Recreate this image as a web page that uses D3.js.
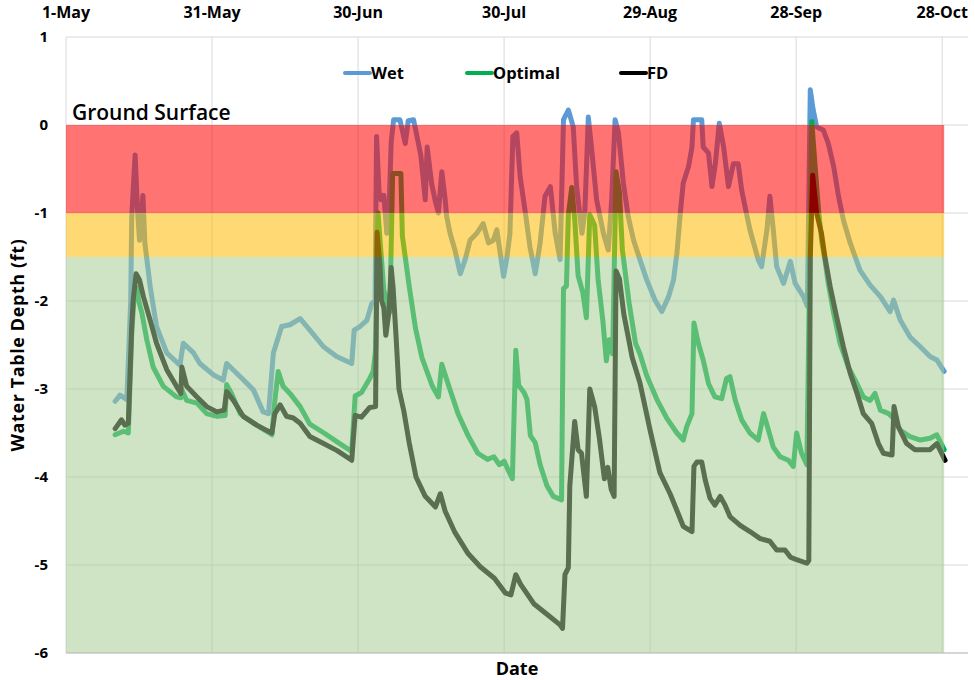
<!DOCTYPE html>
<html>
<head>
<meta charset="utf-8">
<script src="https://cdn.jsdelivr.net/npm/d3@7"></script>
<style>
    body { margin: 0; background: #fff; }
    svg text { font-family: "Open Sans", "Noto Sans", sans-serif; font-weight: 700; fill: #000; }
</style>
</head>
<body>
<div id="chart"></div>
<script>
// days are counted from 1-May
const startDate = Date.UTC(2021, 4, 1);
const tickDays = [0, 30, 60, 90, 120, 150, 180];
const yTicks = [1, 0, -1, -2, -3, -4, -5, -6];
const seriesNames = ['Wet', 'Optimal', 'FD'];

// depth bands (ft): flooded, marginal, good
const bandLimits = [[0, -1], [-1, -1.5], [-1.5, -6]];

const wetData = [
    [10.1,-3.14],[11.1,-3.07],[12.5,-3.12],[13.3,-1.99],[13.5,-1.04],[14.2,-0.34],[14.7,-0.97],[15.1,-1.31],
    [15.8,-0.80],[16.2,-1.34],[17.3,-1.84],[18.6,-2.29],[20.7,-2.59],[23.4,-2.73],[24.1,-2.48],[26.2,-2.59],
    [27.5,-2.71],[30.3,-2.84],[32.3,-2.90],[33.0,-2.71],[35.8,-2.86],[38.5,-3.01],[40.5,-3.26],[41.6,-3.28],
    [42.6,-2.59],[44.3,-2.29],[46.0,-2.27],[48.1,-2.20],[50.1,-2.33],[52.9,-2.52],[55.6,-2.63],[58.7,-2.71],
    [59.2,-2.33],[60.4,-2.29],[61.8,-2.22],[62.8,-2.03],[63.5,-1.99],[63.8,-0.13],[64.3,-0.75],[64.7,-0.85],
    [65.3,-0.80],[65.9,-1.23],[66.4,-0.90],[66.8,-0.20],[67.3,0.06],[68.6,0.06],[69.7,-0.21],[70.3,0.05],
    [71.4,0.06],[72.4,-0.21],[72.9,-0.35],[73.8,-0.85],[74.2,-0.25],[75.1,-0.66],[75.8,-0.85],[76.5,-1.00],
    [77.2,-0.53],[77.9,-0.85],[78.2,-1.04],[78.9,-1.23],[79.9,-1.42],[81.0,-1.69],[82.0,-1.53],[83.0,-1.31],
    [84.4,-1.23],[85.7,-1.12],[86.8,-1.34],[87.8,-1.31],[88.5,-1.19],[89.9,-1.72],[90.6,-1.50],[91.2,-1.23],
    [91.8,-0.13],[92.6,-0.09],[93.3,-0.59],[94.3,-0.97],[95.3,-1.38],[96.4,-1.69],[97.4,-1.34],[98.4,-0.81],
    [99.5,-0.70],[100.5,-1.23],[101.5,-1.53],[102.2,0.06],[103.2,0.17],[104.2,-0.02],[104.9,-0.70],[106.0,-1.23],
    [106.6,-0.97],[107.3,0.09],[108.0,-0.28],[109.0,-0.85],[110.4,-1.23],[111.4,-1.42],[112.1,-0.85],[112.8,0.06],
    [113.5,-0.09],[114.5,-0.66],[115.5,-1.04],[116.6,-1.31],[117.9,-1.53],[119.3,-1.76],[121.0,-1.99],[122.4,-2.12],
    [123.8,-1.95],[124.8,-1.76],[125.5,-1.46],[126.2,-1.00],[126.8,-0.66],[127.9,-0.47],[128.6,-0.25],[128.9,0.06],
    [130.6,0.06],[130.9,-0.25],[132.0,-0.32],[132.7,-0.70],[133.4,-0.44],[134.2,0.02],[135.1,-0.25],[136.1,-0.70],
    [137.1,-0.44],[138.1,-0.44],[138.8,-0.74],[139.5,-0.93],[140.5,-1.19],[142.2,-1.53],[142.9,-1.61],[144.0,-1.19],
    [144.6,-0.81],[145.3,-1.19],[146.0,-1.61],[147.4,-1.80],[148.8,-1.55],[149.8,-1.80],[151.5,-1.95],[152.3,-2.06],
    [152.9,0.40],[153.5,0.17],[154.2,-0.02],[155.6,-0.06],[156.6,-0.21],[157.7,-0.47],[158.7,-0.81],[159.7,-1.08],
    [161.1,-1.34],[163.1,-1.65],[165.2,-1.82],[167.3,-1.95],[169.3,-2.12],[170.0,-1.99],[171.4,-2.22],[173.4,-2.41],
    [175.5,-2.52],[177.5,-2.63],[178.9,-2.67],[180.4,-2.80]
];

const optimalData = [
    [10.1,-3.52],[11.8,-3.48],[12.8,-3.50],[13.5,-2.37],[14.0,-1.95],[14.6,-1.85],[14.9,-1.99],[15.6,-2.14],
    [16.6,-2.44],[17.9,-2.75],[20.0,-2.97],[22.7,-3.09],[23.6,-3.10],[23.8,-3.01],[24.8,-3.13],[26.9,-3.16],
    [28.9,-3.28],[31.0,-3.31],[32.7,-3.30],[33.0,-2.95],[34.0,-3.05],[35.8,-3.28],[38.5,-3.39],[41.2,-3.48],
    [42.3,-3.52],[42.9,-3.13],[43.6,-2.80],[44.6,-2.97],[46.0,-3.05],[48.1,-3.20],[50.1,-3.40],[53.0,-3.50],
    [55.7,-3.60],[58.7,-3.71],[59.4,-3.08],[60.7,-3.04],[62.4,-2.88],[63.1,-2.80],[63.6,-2.56],[64.1,-1.00],
    [64.5,-1.30],[65.3,-1.88],[65.9,-2.00],[66.5,-2.13],[66.8,-1.40],[67.1,-0.55],[68.8,-0.55],[69.1,-1.26],
    [70.5,-1.83],[71.8,-2.31],[73.1,-2.64],[75.2,-2.96],[76.5,-3.09],[77.2,-2.72],[78.6,-2.96],[80.6,-3.29],
    [82.6,-3.53],[84.6,-3.73],[86.6,-3.80],[87.9,-3.77],[89.0,-3.86],[90.0,-3.82],[91.0,-3.94],[91.7,-4.02],
    [92.4,-2.56],[93.0,-2.96],[94.1,-3.04],[94.7,-3.12],[95.4,-3.53],[96.4,-3.61],[97.4,-3.86],[98.8,-4.10],
    [100.1,-4.22],[101.8,-4.26],[102.2,-1.86],[102.8,-1.83],[103.2,-1.02],[103.9,-0.71],[104.5,-1.06],[105.2,-1.71],
    [106.2,-1.91],[106.9,-2.19],[107.6,-1.02],[108.6,-1.14],[109.3,-1.75],[110.3,-2.23],[111.0,-2.68],[111.6,-2.44],
    [112.3,-2.60],[113.0,-0.53],[113.7,-0.77],[114.3,-1.42],[115.7,-2.03],[117.0,-2.48],[117.9,-2.60],[119.3,-2.85],
    [121.4,-3.12],[123.4,-3.33],[125.5,-3.50],[126.8,-3.58],[127.5,-3.43],[128.6,-3.28],[129.0,-2.25],[129.9,-2.48],
    [130.9,-2.67],[132.0,-2.94],[133.3,-3.09],[134.7,-3.11],[135.7,-2.88],[136.4,-2.86],[137.5,-3.13],[138.8,-3.35],
    [140.5,-3.50],[142.2,-3.58],[143.3,-3.28],[143.9,-3.39],[145.3,-3.66],[146.7,-3.77],[148.4,-3.81],[149.4,-3.88],
    [150.1,-3.50],[151.1,-3.73],[152.2,-3.86],[153.2,0.04],[153.9,-0.47],[154.6,-0.97],[155.3,-1.34],[155.9,-1.53],
    [156.6,-1.80],[157.7,-2.14],[159.0,-2.48],[160.7,-2.75],[162.5,-2.94],[163.8,-3.09],[165.2,-3.13],[166.2,-3.05],
    [167.3,-3.24],[169.0,-3.28],[170.3,-3.35],[171.4,-3.47],[173.4,-3.54],[175.5,-3.58],[177.5,-3.56],[178.9,-3.52],
    [180.4,-3.69]
];

const fdData = [
    [10.1,-3.45],[11.4,-3.35],[12.1,-3.41],[12.8,-3.39],[13.5,-2.29],[13.8,-1.99],[14.4,-1.69],[15.1,-1.76],
    [15.9,-1.95],[17.3,-2.22],[18.6,-2.48],[20.7,-2.78],[22.7,-2.97],[23.6,-3.05],[23.8,-2.75],[24.8,-2.97],
    [26.9,-3.09],[28.9,-3.20],[31.0,-3.26],[32.5,-3.24],[33.0,-3.03],[34.4,-3.13],[36.4,-3.31],[39.2,-3.41],
    [41.2,-3.47],[42.3,-3.50],[42.9,-3.28],[44.0,-3.18],[45.3,-3.31],[46.7,-3.33],[48.1,-3.39],[50.1,-3.54],
    [52.9,-3.62],[55.7,-3.70],[58.7,-3.81],[59.4,-3.30],[60.7,-3.32],[62.4,-3.21],[63.6,-3.20],[63.9,-1.22],
    [64.5,-1.60],[64.8,-1.99],[65.3,-2.08],[65.7,-2.39],[66.4,-2.10],[66.8,-1.62],[67.2,-1.85],[67.8,-2.40],
    [68.4,-3.00],[69.4,-3.25],[70.5,-3.61],[71.9,-4.00],[73.8,-4.22],[75.9,-4.34],[76.9,-4.19],[77.9,-4.39],
    [79.9,-4.63],[82.6,-4.87],[85.1,-5.02],[88.0,-5.15],[90.3,-5.32],[91.4,-5.34],[92.4,-5.11],[93.4,-5.22],
    [96.1,-5.44],[98.8,-5.56],[101.5,-5.68],[102.0,-5.72],[102.5,-5.11],[103.2,-5.03],[103.5,-4.10],[104.5,-3.37],
    [105.2,-3.69],[105.9,-3.73],[106.9,-4.22],[107.6,-3.00],[108.6,-3.20],[109.6,-3.57],[110.6,-4.02],[111.3,-3.89],
    [112.0,-4.14],[112.6,-4.22],[113.0,-1.66],[113.7,-1.75],[114.6,-2.15],[116.3,-2.64],[117.9,-2.93],[120.0,-3.47],
    [122.0,-3.95],[124.1,-4.19],[125.5,-4.38],[126.8,-4.56],[128.6,-4.62],[129.0,-3.88],[129.6,-3.83],[130.6,-3.83],
    [131.3,-4.03],[132.3,-4.24],[133.3,-4.32],[134.4,-4.22],[135.4,-4.32],[136.4,-4.45],[138.5,-4.55],[140.5,-4.62],
    [142.6,-4.70],[144.6,-4.73],[146.0,-4.83],[147.7,-4.83],[148.8,-4.91],[150.1,-4.94],[152.2,-4.98],[152.6,-4.95],
    [152.9,-1.50],[153.4,-0.57],[154.2,-1.00],[155.2,-1.23],[155.9,-1.50],[157.0,-1.84],[158.3,-2.18],[159.7,-2.52],
    [161.1,-2.82],[162.5,-3.05],[163.8,-3.28],[165.5,-3.39],[166.9,-3.62],[167.9,-3.73],[169.7,-3.75],[170.1,-3.20],
    [171.0,-3.43],[172.7,-3.62],[174.4,-3.69],[176.1,-3.69],[177.5,-3.69],[178.9,-3.62],[180.6,-3.81]
];

class DepthChart {
    constructor(parentElement) {
        this.parentElement = parentElement;
        this.lineColors = {Wet: '#5b9bd5', Optimal: '#00b050', FD: '#000000'};
        this.bandStyles = [
            {fill: '#ff0000', opacity: 0.55},
            {fill: '#ffb900', opacity: 0.55},
            {fill: '#a7cc94', opacity: 0.54}
        ];
        this.initVis();
    }

    initVis() {
        let vis = this;

        vis.width = 975;
        vis.height = 680;
        vis.margin = {top: 37, right: 7, bottom: 27, left: 66};

        vis.svg = d3.select('#' + vis.parentElement).append('svg')
            .attr('width', vis.width)
            .attr('height', vis.height);

        const toDate = d => new Date(startDate + d * 864e5);

        vis.x = d3.scaleUtc()
            .domain([toDate(0), toDate(185.3)])
            .range([vis.margin.left, vis.width - vis.margin.right]);

        vis.y = d3.scaleLinear()
            .domain([-6, 1])
            .range([vis.height - vis.margin.bottom, vis.margin.top]);

        // gridlines
        vis.svg.append('g')
            .selectAll('line')
            .data(yTicks)
            .enter().append('line')
            .attr('x1', vis.x.range()[0])
            .attr('x2', vis.x.range()[1])
            .attr('y1', d => vis.y(d))
            .attr('y2', d => vis.y(d))
            .attr('stroke', '#d9d9d9')
            .attr('stroke-width', 1);

        vis.svg.append('g')
            .selectAll('line')
            .data(tickDays)
            .enter().append('line')
            .attr('x1', d => vis.x(toDate(d)))
            .attr('x2', d => vis.x(toDate(d)))
            .attr('y1', vis.y(1))
            .attr('y2', vis.y(-6))
            .attr('stroke', '#d9d9d9')
            .attr('stroke-width', 1);

        // series lines
        let line = d3.line()
            .x(d => vis.x(toDate(d[0])))
            .y(d => vis.y(d[1]));

        let seriesData = {Wet: wetData, Optimal: optimalData, FD: fdData};

        seriesNames.forEach(name => {
            vis.svg.append('path')
                .datum(seriesData[name])
                .attr('fill', 'none')
                .attr('stroke', vis.lineColors[name])
                .attr('stroke-width', 5)
                .attr('stroke-linejoin', 'round')
                .attr('stroke-linecap', 'round')
                .attr('d', line);
        });

        // translucent depth bands on top of the lines
        let lastDay = d3.max(wetData, d => d[0]);
        vis.svg.append('g')
            .selectAll('rect')
            .data(bandLimits)
            .enter().append('rect')
            .attr('x', vis.x(toDate(0)))
            .attr('width', vis.x(toDate(lastDay)) - vis.x(toDate(0)))
            .attr('y', d => vis.y(d[0]))
            .attr('height', d => vis.y(d[1]) - vis.y(d[0]))
            .attr('fill', (d, i) => vis.bandStyles[i].fill)
            .attr('fill-opacity', (d, i) => vis.bandStyles[i].opacity);

        // bottom axis line
        vis.svg.append('line')
            .attr('x1', vis.x.range()[0])
            .attr('x2', vis.x.range()[1])
            .attr('y1', vis.y(-6))
            .attr('y2', vis.y(-6))
            .attr('stroke', '#bfbfbf');

        // date labels along the top
        vis.svg.append('g')
            .selectAll('text')
            .data(tickDays)
            .enter().append('text')
            .attr('x', d => vis.x(toDate(d)))
            .attr('y', 18)
            .attr('text-anchor', 'middle')
            .style('font-size', '16px')
            .text(d => d3.utcFormat('%-d-%b')(toDate(d)));

        // depth labels
        vis.svg.append('g')
            .selectAll('text')
            .data(yTicks)
            .enter().append('text')
            .attr('x', 48)
            .attr('y', d => vis.y(d))
            .attr('dy', '0.35em')
            .attr('text-anchor', 'end')
            .style('font-size', '15px')
            .text(d => d);

        vis.svg.append('text')
            .attr('transform', `translate(24, ${vis.y(-2.5)}) rotate(-90)`)
            .attr('text-anchor', 'middle')
            .style('font-size', '18px')
            .style('letter-spacing', '0.6px')
            .text('Water Table Depth (ft)');

        vis.svg.append('text')
            .attr('x', (vis.x.range()[0] + vis.x.range()[1]) / 2)
            .attr('y', 675)
            .attr('text-anchor', 'middle')
            .style('font-size', '18px')
            .text('Date');

        vis.svg.append('text')
            .attr('x', 72)
            .attr('y', 120)
            .style('font-size', '21px')
            .style('font-weight', 600)
            .text('Ground Surface');

        // legend
        let legendX = [345, 467, 621];
        let legend = vis.svg.append('g')
            .selectAll('g')
            .data(seriesNames)
            .enter().append('g')
            .attr('transform', (d, i) => `translate(${legendX[i]}, 73)`);

        legend.append('line')
            .attr('x1', 0).attr('x2', 25)
            .attr('stroke', d => vis.lineColors[d])
            .attr('stroke-width', 4)
            .attr('stroke-linecap', 'round');

        legend.append('text')
            .attr('x', 26)
            .attr('dy', '0.35em')
            .style('font-size', '16.5px')
            .text(d => d);
    }
}

new DepthChart('chart');
</script>
</body>
</html>
